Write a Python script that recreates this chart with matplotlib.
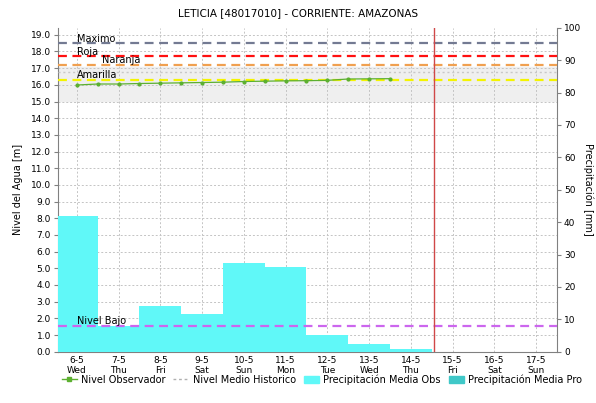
import numpy as np
import matplotlib
matplotlib.use("Agg")
import matplotlib.pyplot as plt
from matplotlib.lines import Line2D
from matplotlib.patches import Patch

# days of May shown on the x axis
days = [6, 7, 8, 9, 10, 11, 12, 13, 14, 15, 16, 17]
weekdays = ["Wed", "Thu", "Fri", "Sat", "Sun", "Mon", "Tue", "Wed", "Thu", "Fri", "Sat", "Sun"]

# precipitation observed (mm), one bar per day
precip_days = [6, 7, 8, 9, 10, 11, 12, 13, 14]
precip_obs = [41.9, 7.8, 14.2, 11.5, 27.3, 26.0, 5.2, 2.3, 0.7]

# observed water level (m), every half day
level_t = [6.0, 6.5, 7.0, 7.5, 8.0, 8.5, 9.0, 9.5, 10.0, 10.5, 11.0, 11.5, 12.0, 12.5, 13.0, 13.5]
level_obs = [15.99, 16.05, 16.05, 16.08, 16.10, 16.12, 16.14, 16.16, 16.20, 16.22,
             16.24, 16.25, 16.27, 16.35, 16.36, 16.37]

# thresholds (m)
thresholds = {"Maximo": 18.5, "Roja": 17.72, "Naranja": 17.2, "Amarilla": 16.27}
nivel_bajo = 1.54
nivel_medio = 16.8
band_low, band_high = 15.05, 17.05
today = 14.55

fig = plt.figure(figsize=(5.96, 4.03), dpi=100)
ax = fig.add_axes([0.0973, 0.1273, 0.8373, 0.8037])
ax2 = ax.twinx()
ax3 = ax.twinx()

ymax = 19.42
xmin, xmax = 5.55, 17.5

# bottom layer: band + grid
ax.set_xlim(xmin, xmax)
ax.set_ylim(0, ymax)
ax.axhspan(band_low, band_high, color="#efefef", zorder=0)
ax.set_xticks(days)
ax.set_xticklabels([f"{d}-5\n{w}" for d, w in zip(days, weekdays)], fontsize=6.5, linespacing=1.15)
ax.set_yticks(np.arange(0, 20))
ax.set_yticklabels([f"{v:.1f}" for v in np.arange(0, 20)], fontsize=6.5)
ax.grid(True, color="#c4c4c4", linestyle=(0, (2, 2)), linewidth=0.7)
ax.set_axisbelow(True)
ax.set_ylabel("Nivel del Agua [m]", fontsize=7, labelpad=6)
ax.tick_params(axis="both", length=3, color="#808080", pad=2)
ax.tick_params(axis="x", length=0, pad=3)
for s in ["top", "right"]:
    ax.spines[s].set_visible(False)
for s in ["left", "bottom"]:
    ax.spines[s].set_color("#808080")

# middle layer: precipitation bars (right axis)
ax2.set_zorder(ax.get_zorder() + 1)
ax2.patch.set_visible(False)
ax2.bar(precip_days, precip_obs, width=1.0, color="#60f8f8", linewidth=0)
ax2.set_ylim(0, 100)
ax2.set_xlim(xmin, xmax)
ax2.set_yticks(np.arange(0, 101, 10))
ax2.tick_params(axis="y", labelsize=6.5, length=3, color="#808080", pad=2)
ax2.set_ylabel("Precipitación [mm]", fontsize=7, rotation=-90, labelpad=9)
for s in ["top", "left", "bottom"]:
    ax2.spines[s].set_visible(False)
ax2.spines["right"].set_color("#808080")

# top layer: levels and thresholds (left scale)
ax3.set_zorder(ax2.get_zorder() + 1)
ax3.patch.set_visible(False)
ax3.set_ylim(0, ymax)
ax3.set_xlim(xmin, xmax)
ax3.axis("off")

dash = (0, (4, 2.5))
ax3.axhline(nivel_medio, color="#c8c8c8", linestyle=(0, (1.5, 2)), linewidth=1)
colors = {"Maximo": "#737a92", "Roja": "#ff1010", "Naranja": "#f0a050", "Amarilla": "#f4f400"}
for name, val in thresholds.items():
    ax3.axhline(val, color=colors[name], linestyle=dash, linewidth=1.6)
ax3.axhline(nivel_bajo, color="#cc66ee", linestyle=dash, linewidth=1.6)
ax3.axvline(today, color="#d04848", linewidth=1)

ax3.plot(level_t, level_obs, color="#5cb030", linewidth=0.9, marker="o", markersize=2)

lab_kw = dict(fontsize=7, va="baseline", ha="left")
ax3.text(6.0, thresholds["Maximo"] + 0.08, "Maximo", **lab_kw)
ax3.text(6.0, thresholds["Roja"] + 0.08, "Roja", **lab_kw)
ax3.text(6.6, thresholds["Naranja"] + 0.12, "Naranja", **lab_kw)
ax3.text(6.0, thresholds["Amarilla"] + 0.12, "Amarilla", **lab_kw)
ax3.text(6.0, nivel_bajo + 0.15, "Nivel Bajo", **lab_kw)

fig.suptitle("LETICIA [48017010] - CORRIENTE: AMAZONAS", fontsize=7.5, y=0.98)

handles = [
    Line2D([0], [0], color="#5cb030", marker="s", markersize=2.5, linewidth=1),
    Line2D([0], [0], color="#b0b0b0", linestyle=(0, (2, 2)), linewidth=1),
    Patch(color="#60f8f8"),
    Patch(color="#40c8c8"),
]
labels = ["Nivel Observador", "Nivel Medio Historico", "Precipitación Media Obs", "Precipitación Media Pro"]
fig.legend(handles, labels, loc="center", bbox_to_anchor=(0.54, 0.058), ncol=4, frameon=False,
           fontsize=7, handlelength=1.6, handletextpad=0.4, columnspacing=0.8)

fig.savefig("out.png", dpi=100)
